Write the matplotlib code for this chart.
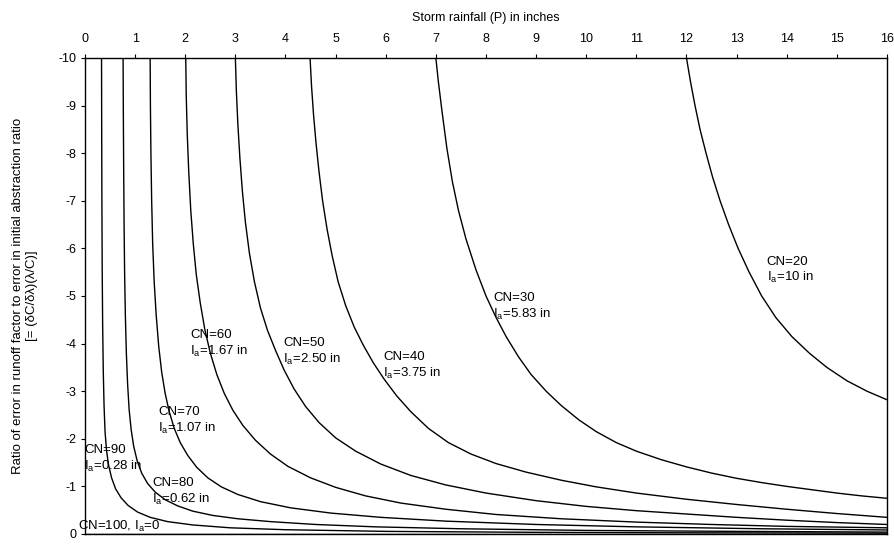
import matplotlib
matplotlib.use("Agg")
import matplotlib.pyplot as plt

plt.rcParams['font.family'] = ['Liberation Sans', 'DejaVu Sans']
plt.rcParams['axes.unicode_minus'] = False
plt.rcParams['mathtext.fontset'] = 'custom'
plt.rcParams['mathtext.rm'] = 'Liberation Sans'

# values: storm rainfall P (in) vs. error ratio
p_cn20 = [12.0, 12.08, 12.17, 12.27, 12.39, 12.52, 12.67, 12.84, 13.03, 13.25, 13.5, 13.78,
          14.1, 14.45, 14.8, 15.2, 15.6, 16.0]
r_cn20 = [-10, -9.5, -9.0, -8.5, -8.0, -7.5, -7.0, -6.5, -6.0, -5.5, -5.0, -4.55,
          -4.15, -3.8, -3.5, -3.22, -3.0, -2.82]

p_cn30 = [7.0, 7.05, 7.12, 7.22, 7.33, 7.45, 7.6, 7.8, 8.0, 8.2, 8.4, 8.65, 8.9, 9.2, 9.5,
          9.85, 10.2, 10.6, 11.0, 11.5, 12.0, 12.5, 13.0, 13.5, 14.0, 14.5, 15.0, 15.5, 16.0]
r_cn30 = [-10, -9.5, -8.9, -8.1, -7.4, -6.8, -6.2, -5.55, -5.0, -4.55, -4.15, -3.72, -3.35, -3.0, -2.7,
          -2.4, -2.15, -1.92, -1.74, -1.56, -1.41, -1.28, -1.17, -1.08, -1.0, -0.93, -0.86, -0.8, -0.75]

p_cn40 = [4.49, 4.52, 4.56, 4.61, 4.67, 4.74, 4.83, 4.93, 5.05, 5.2, 5.37, 5.55, 5.75, 5.97,
          6.22, 6.5, 6.85, 7.25, 7.7, 8.2, 8.8, 9.5, 10.2, 11.0, 12.0, 13.0, 14.0, 15.0, 16.0]
r_cn40 = [-10, -9.4, -8.8, -8.2, -7.6, -7.0, -6.4, -5.85, -5.3, -4.8, -4.35, -3.97, -3.6, -3.25,
          -2.9, -2.57, -2.22, -1.92, -1.68, -1.48, -1.3, -1.13, -0.99, -0.86, -0.73, -0.62, -0.52, -0.43, -0.35]

p_cn50 = [3.0, 3.02, 3.05, 3.09, 3.14, 3.2, 3.28, 3.38, 3.5, 3.64, 3.8, 3.97, 4.17, 4.4, 4.67,
          5.0, 5.4, 5.9, 6.5, 7.2, 8.0, 9.0, 10.0, 11.0, 12.0, 13.0, 14.0, 15.0, 16.0]
r_cn50 = [-10, -9.3, -8.6, -7.9, -7.2, -6.55, -5.9, -5.3, -4.75, -4.28, -3.86, -3.45, -3.05, -2.68, -2.34,
          -2.02, -1.74, -1.47, -1.23, -1.03, -0.86, -0.7, -0.58, -0.49, -0.42, -0.35, -0.29, -0.24, -0.2]

p_cn60 = [2.01, 2.02, 2.04, 2.07, 2.11, 2.16, 2.22, 2.3, 2.39, 2.5, 2.63, 2.78, 2.95, 3.15, 3.4,
          3.7, 4.05, 4.5, 5.0, 5.6, 6.3, 7.2, 8.2, 9.5, 11.0, 12.5, 14.0, 16.0]
r_cn60 = [-10, -9.2, -8.4, -7.6, -6.8, -6.1, -5.45, -4.85, -4.3, -3.8, -3.35, -2.95, -2.6, -2.28, -1.97,
          -1.68, -1.42, -1.18, -0.98, -0.8, -0.65, -0.52, -0.41, -0.32, -0.25, -0.2, -0.16, -0.13]

p_cn70 = [1.30, 1.305, 1.315, 1.33, 1.35, 1.38, 1.42, 1.47, 1.53, 1.6, 1.68, 1.78, 1.9, 2.05,
          2.23, 2.45, 2.72, 3.05, 3.5, 4.1, 4.9, 5.9, 7.2, 9.0, 11.0, 13.5, 16.0]
r_cn70 = [-10, -9.0, -8.0, -7.0, -6.1, -5.3, -4.6, -3.95, -3.4, -2.95, -2.57, -2.22, -1.92, -1.65,
          -1.4, -1.18, -0.99, -0.83, -0.68, -0.55, -0.44, -0.35, -0.27, -0.2, -0.15, -0.11, -0.085]

p_cn80 = [0.76, 0.765, 0.772, 0.78, 0.79, 0.805, 0.825, 0.85, 0.88, 0.92, 0.97, 1.04, 1.13, 1.25,
          1.4, 1.6, 1.85, 2.15, 2.55, 3.05, 3.7, 4.6, 5.8, 7.5, 10.0, 13.0, 16.0]
r_cn80 = [-10, -8.8, -7.6, -6.5, -5.5, -4.6, -3.8, -3.15, -2.62, -2.2, -1.85, -1.54, -1.28, -1.06,
          -0.88, -0.72, -0.59, -0.48, -0.39, -0.32, -0.26, -0.2, -0.15, -0.11, -0.075, -0.055, -0.04]

p_cn90 = [0.33, 0.333, 0.337, 0.343, 0.352, 0.365, 0.38, 0.4, 0.43, 0.47, 0.53, 0.61, 0.72, 0.86,
          1.05, 1.3, 1.65, 2.15, 2.9, 4.0, 6.0, 9.0, 12.0, 16.0]
r_cn90 = [-10, -8.5, -7.0, -5.6, -4.4, -3.4, -2.7, -2.15, -1.75, -1.45, -1.18, -0.95, -0.76, -0.6,
          -0.46, -0.35, -0.26, -0.19, -0.13, -0.09, -0.055, -0.035, -0.025, -0.018]

p_cn100 = [0, 16]
r_cn100 = [0, 0]

curves = [(p_cn20, r_cn20), (p_cn30, r_cn30), (p_cn40, r_cn40), (p_cn50, r_cn50),
          (p_cn60, r_cn60), (p_cn70, r_cn70), (p_cn80, r_cn80), (p_cn90, r_cn90),
          (p_cn100, r_cn100)]

# curve labels: (P, ratio, CN line, Ia line)
labels = [
    (13.6, -5.72, 'CN=20', r'I$_\mathrm{a}$=10 in'),
    (8.14, -4.96, 'CN=30', r'I$_\mathrm{a}$=5.83 in'),
    (5.95, -3.72, 'CN=40', r'I$_\mathrm{a}$=3.75 in'),
    (3.95, -4.01, 'CN=50', r'I$_\mathrm{a}$=2.50 in'),
    (2.10, -4.18, 'CN=60', r'I$_\mathrm{a}$=1.67 in'),
    (1.46, -2.56, 'CN=70', r'I$_\mathrm{a}$=1.07 in'),
    (-0.02, -1.76, 'CN=90', r'I$_\mathrm{a}$=0.28 in'),
    (1.34, -1.07, 'CN=80', r'I$_\mathrm{a}$=0.62 in'),
]

fig = plt.figure(figsize=(8.95, 5.44), dpi=100)
ax = fig.add_axes([85/895, 10/544, 802/895, 476/544])

for p, r in curves:
    ax.plot(p, r, '-k', linewidth=1.0)

for x, y, cn, ia in labels:
    ax.text(x, y, cn, fontsize=9.5, ha='left', va='center')
    ax.text(x, y + 0.34, ia, fontsize=9.5, ha='left', va='center')
ax.text(-0.14, -0.15, r'CN=100, I$_\mathrm{a}$=0', fontsize=9.5, ha='left', va='center')

ax.set_xlim(0, 16)
ax.set_ylim(0, -10)
ax.xaxis.tick_top()
ax.xaxis.set_label_position('top')
ax.set_xticks(range(0, 17))
ax.set_xticklabels([str(i) for i in range(0, 17)])
ax.set_yticks(range(-10, 1))
ax.set_yticklabels([str(i) for i in range(-10, 1)])
ax.tick_params(axis='x', direction='out', length=3, pad=6, labelsize=9)
ax.tick_params(axis='y', direction='out', length=3, pad=3, labelsize=9)
for s in ax.spines.values():
    s.set_linewidth(1.0)

ax.set_xlabel('Storm rainfall (P) in inches', fontsize=9, labelpad=9)
ax.set_ylabel('Ratio of error in runoff factor to error in initial abstraction ratio\n'
              '[= (\u03b4C/\u03b4\u03bb)(\u03bb/C)]', fontsize=9.5, labelpad=15,
              multialignment='center')

fig.savefig('out.png', dpi=100)
